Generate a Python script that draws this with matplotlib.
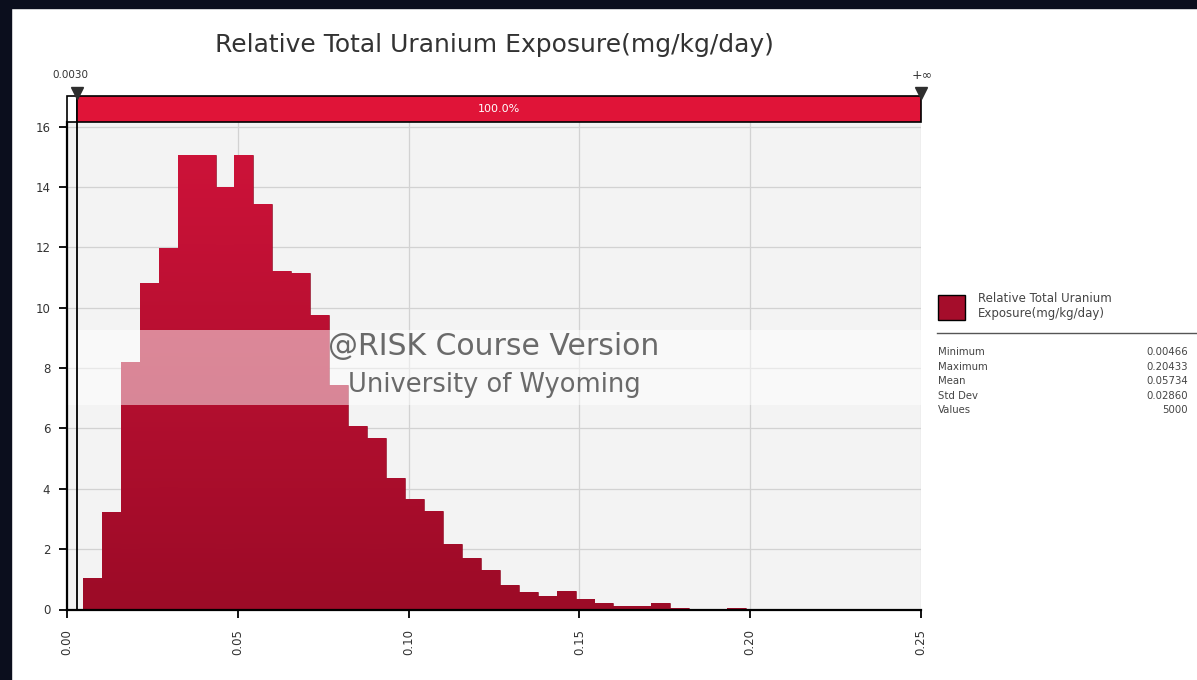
import numpy as np
import matplotlib
matplotlib.use("Agg")
import matplotlib.pyplot as plt
from matplotlib.patches import Rectangle
from matplotlib.lines import Line2D
from matplotlib.colors import LinearSegmentedColormap

# ---------------- data ----------------
title = "Relative Total Uranium Exposure(mg/kg/day)"
stat_names = ["Minimum", "Maximum", "Mean", "Std Dev", "Values"]
stat_values = ["0.00466", "0.20433", "0.05734", "0.02860", "5000"]
data_min = 0.00466
data_max = 0.20433
n_bins = 36
densities = [1.04, 3.24, 8.22, 10.83, 11.97, 15.07, 15.07, 14.02, 15.07, 13.44,
             11.21, 11.15, 9.77, 7.45, 6.09, 5.70, 4.37, 3.65, 3.26, 2.17,
             1.71, 1.32, 0.80, 0.58, 0.45, 0.60, 0.36, 0.20, 0.13, 0.13,
             0.23, 0.04, 0.03, 0.00, 0.04, 0.03]
x_ticks = [0.00, 0.05, 0.10, 0.15, 0.20, 0.25]
x_tick_labels = ["0.00", "0.05", "0.10", "0.15", "0.20", "0.25"]
y_ticks = [0, 2, 4, 6, 8, 10, 12, 14, 16]
left_marker = 0.003
left_marker_label = "0.0030"
right_marker_label = "+\u221e"
band_label = "100.0%"
legend_label = "Relative Total Uranium\nExposure(mg/kg/day)"
watermark1 = "@RISK Course Version"
watermark2 = "University of Wyoming"

W, H = 1197, 680


def fx(x):
    return x / W


def fy(y):
    return 1 - y / H


fig = plt.figure(figsize=(W / 100, H / 100), dpi=100)
fig.patch.set_facecolor("white")

# dark slide edges
fig.add_artist(Rectangle((0, 0), fx(11), 1, transform=fig.transFigure,
                         color="#0b0e1d", zorder=0))
fig.add_artist(Rectangle((0, fy(8)), 1, 8 / H, transform=fig.transFigure,
                         color="#0b0e1d", zorder=0))

# ---------------- main axes ----------------
ax_l, ax_r, ax_b, ax_t = 67, 921, 609.5, 122
ax = fig.add_axes([fx(ax_l), fy(ax_b), (ax_r - ax_l) / W, (ax_b - ax_t) / H])
ax.set_facecolor("#f3f3f3")
ax.set_xlim(0, 0.25)
ax.set_ylim(0, 16.16)

edges = np.linspace(data_min, data_max, n_bins + 1)
width = edges[1] - edges[0]
bars = ax.bar(edges[:-1], densities, width=width, align="edge",
              color="#b3102d", edgecolor="#8a0a22", linewidth=0.4, zorder=2)

# vertical gradient inside bars
grad = np.linspace(0, 1, 256).reshape(-1, 1)
cmap = LinearSegmentedColormap.from_list("rg", ["#d0133a", "#9c0b27"])
for b in bars:
    if b.get_height() <= 0:
        continue
    im = ax.imshow(grad, cmap=cmap, aspect="auto",
                   extent=[0, 0.25, 0, 16.16], origin="upper", zorder=2.1)
    im.set_clip_path(b)
ax.set_xlim(0, 0.25)
ax.set_ylim(0, 16.16)

ax.set_xticks(x_ticks)
ax.set_xticklabels(x_tick_labels, rotation=90)
ax.set_yticks(y_ticks)
ax.grid(True, color="#d2d2d2", linewidth=0.9, zorder=1)
ax.set_axisbelow(True)
for s in ["top", "right"]:
    ax.spines[s].set_visible(False)
for s in ["left", "bottom"]:
    ax.spines[s].set_linewidth(1.6)
    ax.spines[s].set_color("black")
    ax.spines[s].set_zorder(5)
ax.tick_params(direction="out", length=6, width=1.3, color="black",
               labelsize=8.5, labelcolor="#333333")
ax.tick_params(axis="x", pad=8)
ax.tick_params(axis="y", pad=6)

# marker line
ax.axvline(left_marker, color="black", linewidth=1.3, zorder=4)

# watermark band
ax.axhspan(6.78, 9.27, color="white", alpha=0.5, lw=0, zorder=3)
fig.text(fx(494), fy(347), watermark1, ha="center", va="center",
         fontsize=21.5, color="#6a6a6a", zorder=10)
fig.text(fx(494), fy(385), watermark2, ha="center", va="center",
         fontsize=18.5, color="#6a6a6a", zorder=10)

# ---------------- top band ----------------
bax = fig.add_axes([fx(ax_l), fy(122), (ax_r - ax_l) / W, 26 / H])
bax.set_xlim(0, 0.25)
bax.set_ylim(0, 1)
bax.axis("off")
bax.add_patch(Rectangle((0, 0), left_marker, 1, facecolor="white",
                        edgecolor="black", linewidth=1.2, clip_on=False))
bax.add_patch(Rectangle((left_marker, 0), 0.25 - left_marker, 1,
                        facecolor="#e01438", edgecolor="black",
                        linewidth=1.2, clip_on=False))
bax.text((left_marker + 0.25) / 2, 0.5, band_label, ha="center", va="center",
         color="white", fontsize=8)
bax.plot([left_marker, 0.25], [1.1, 1.1], linestyle="none", marker="v",
         markersize=9, color="#2e2e2e", clip_on=False)
bax.text(0.0009, 1.8, left_marker_label, ha="center", va="center",
         fontsize=7.5, color="#333333")
bax.text(0.2503, 1.8, right_marker_label, ha="center", va="center",
         fontsize=9, color="#333333")

# ---------------- title ----------------
fig.text(fx(494), fy(45), title, ha="center", va="center",
         fontsize=18, color="#333333")

# ---------------- stats panel ----------------
fig.add_artist(Rectangle((fx(938), fy(320)), 27 / W, 25 / H,
                         facecolor="#a50d2b", edgecolor="black", linewidth=1,
                         transform=fig.transFigure))
fig.text(fx(978), fy(306), legend_label, ha="left", va="center",
         fontsize=8.5, color="#444444", linespacing=1.25)
fig.add_artist(Line2D([fx(937), 1.0], [fy(333), fy(333)], color="#555555",
                      linewidth=1, transform=fig.transFigure))
row_y = [352, 366.5, 381, 395.5, 410]
for name, val, yy in zip(stat_names, stat_values, row_y):
    fig.text(fx(938), fy(yy), name, ha="left", va="center", fontsize=7.3,
             color="#444444")
    fig.text(fx(1188), fy(yy), val, ha="right", va="center", fontsize=7.3,
             color="#444444")

fig.savefig("out.png", dpi=100, facecolor=fig.get_facecolor())
